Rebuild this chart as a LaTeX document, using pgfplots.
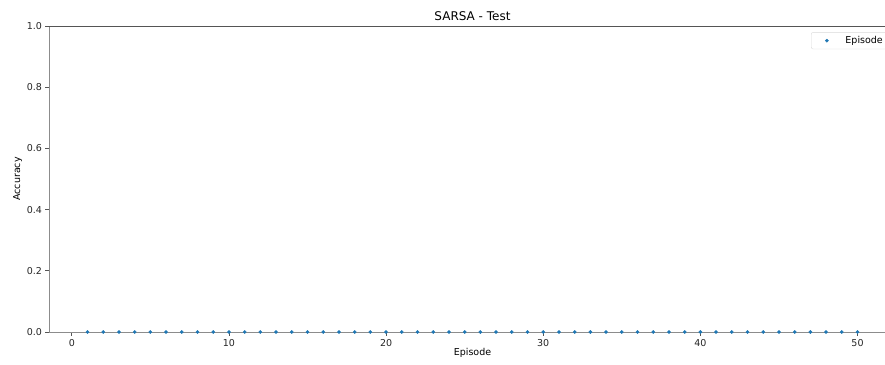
\documentclass[border=0pt]{standalone}
\usepackage{pgfplots}
\pgfplotsset{compat=1.18}
\usepackage{fontspec}
\setmainfont{DejaVu Sans}
\definecolor{mplblue}{HTML}{1F77B4}
\definecolor{spinegray}{HTML}{8C8C8C}
\definecolor{topgray}{HTML}{555555}
\begin{document}
\begin{tikzpicture}
\useasboundingbox (-49pt,-32pt) rectangle (836pt,332pt);
\clip (-49pt,-32pt) rectangle (836pt,332pt);
\begin{axis}[
  at={(0pt,0pt)}, anchor=south west,
  scale only axis, width=847pt, height=306pt,
  xmin=-1.45, xmax=52.45, ymin=0, ymax=1,
  clip=false,
  axis x line*=bottom, axis y line*=left,
  axis line style={draw=spinegray, line width=0.9pt},
  xtick={0,10,20,30,40,50},
  ytick={0,0.2,0.4,0.6,0.8,1.0},
  yticklabel style={/pgf/number format/fixed,/pgf/number format/fixed zerofill,/pgf/number format/precision=1},
  /pgf/number format/assume math mode=true,
  tick align=outside, major tick length=3.5pt,
  tick style={draw=topgray, line width=0.8pt},
  ticklabel style={font=\fontsize{9.5}{11}\selectfont, text=black!85},
  xlabel={Episode}, ylabel={Accuracy},
  label style={font=\fontsize{9.5}{11}\selectfont},
  xlabel style={yshift=5pt},
  ylabel style={yshift=-2pt},
  title={SARSA - Test},
  title style={font=\fontsize{12}{14}\selectfont, yshift=-4pt},
  legend style={at={(rel axis cs:0.8997,0.98)}, anchor=north west, draw=black!15, rounded corners=2pt, font=\fontsize{9.5}{11}\selectfont, inner xsep=14pt, inner ysep=2pt},
  legend cell align=left,
]
\addplot[only marks, mark=*, mark size=1.6pt, mark options={fill=mplblue, draw=mplblue}] coordinates {
(1,0)(2,0)(3,0)(4,0)(5,0)(6,0)(7,0)(8,0)(9,0)(10,0)
(11,0)(12,0)(13,0)(14,0)(15,0)(16,0)(17,0)(18,0)(19,0)(20,0)
(21,0)(22,0)(23,0)(24,0)(25,0)(26,0)(27,0)(28,0)(29,0)(30,0)
(31,0)(32,0)(33,0)(34,0)(35,0)(36,0)(37,0)(38,0)(39,0)(40,0)
(41,0)(42,0)(43,0)(44,0)(45,0)(46,0)(47,0)(48,0)(49,0)(50,0)
};
\addlegendentry{\hspace{15pt}Episode}
\draw[topgray, line width=0.8pt] (rel axis cs:0,1) -- (rel axis cs:1,1);
\end{axis}
\end{tikzpicture}
\end{document}
